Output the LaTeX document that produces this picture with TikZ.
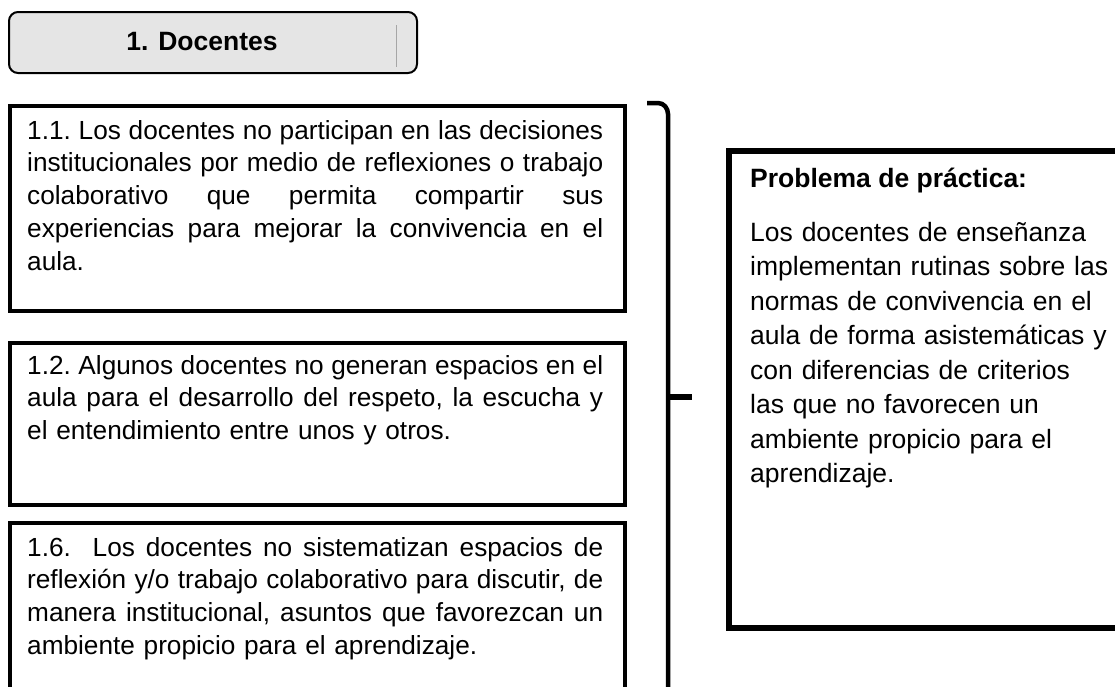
\documentclass[tikz,border=0pt]{standalone}
\usepackage{fontspec}
\setmainfont{Liberation Sans}
\newcommand{\jline}[1]{\leavevmode\hbox to 576pt{\frenchspacing\spaceskip=0.278em plus 1fil\relax #1}}
\begin{document}
\begin{tikzpicture}[x=1pt,y=-1pt,
  hdrbox/.style={draw=black, line width=2pt, rounded corners=9pt, fill=black!10},
  lbox/.style={draw=black, line width=4pt, inner sep=0pt},
  rbox/.style={draw=black, line width=5.5pt, inner sep=0pt},
  txt/.style={inner sep=0pt, align=left, text width=576pt,
    font=\fontsize{26.2}{32.8}\selectfont},
  rtxt/.style={inner sep=0pt, align=left, text width=360pt,
    font=\fontsize{26.5}{34.5}\selectfont},
  bracest/.style={line width=4.5pt, line cap=butt}]
\useasboundingbox (0,0) rectangle (1115,686);
\fill[white] (0,0) rectangle (1115,686);

% header
\node[hdrbox, anchor=north west, minimum width=408pt, minimum height=61pt] (hdr) at (8,11) {};
\node[inner sep=0pt, font=\bfseries\fontsize{26.5}{30}\selectfont] (hdrt) at (202,42) {1. Docentes};
\draw[black!35, line width=1pt] (396,25) -- (396,67);

% left boxes
\node[lbox, anchor=north west, minimum width=615pt, minimum height=205pt] (b1) at (8,104) {};
\node[lbox, anchor=north west, minimum width=615pt, minimum height=162pt] (b2) at (8,341) {};
\node[lbox, anchor=north west, minimum width=615pt, minimum height=200pt] (b3) at (8,521) {};

\node[txt, anchor=base west] (t1) at (27,139) {%
\jline{1.1. Los docentes no participan en las decisiones}\\
\jline{institucionales por medio de reflexiones o trabajo}\\
\jline{colaborativo que permita compartir sus}\\
\jline{experiencias para mejorar la convivencia en el}\\
aula.};

\node[txt, anchor=base west] (t2) at (27,374) {%
\jline{1.2. Algunos docentes no generan espacios en el}\\
\jline{aula para el desarrollo del respeto, la escucha y}\\
el entendimiento entre unos y otros.};

\node[txt, anchor=base west] (t3) at (27,556) {%
\jline{1.6.\ \ Los docentes no sistematizan espacios de}\\
\jline{reflexión y/o trabajo colaborativo para discutir, de}\\
\jline{manera institucional, asuntos que favorezcan un}\\
ambiente propicio para el aprendizaje.};

% brace
\draw[bracest] (647,103) -- (658,103) to[out=0,in=90] (668,114) -- (668,700);
\draw[line width=6pt] (668,397) -- (692,397);

% right box
\node[rbox, anchor=north west, minimum width=420pt, minimum height=477pt] (rb) at (726,148) {};
\node[inner sep=0pt, anchor=base west, font=\bfseries\fontsize{26.5}{30}\selectfont] (rt) at (750,187) {Problema de práctica:};
\node[rtxt, anchor=base west] (rbody) at (750,241) {%
Los docentes de enseñanza\\
implementan rutinas sobre las\\
normas de convivencia en el\\
aula de forma asistemáticas y\\
con diferencias de criterios\\
las que no favorecen un\\
ambiente propicio para el\\
aprendizaje.};
\end{tikzpicture}
\end{document}
